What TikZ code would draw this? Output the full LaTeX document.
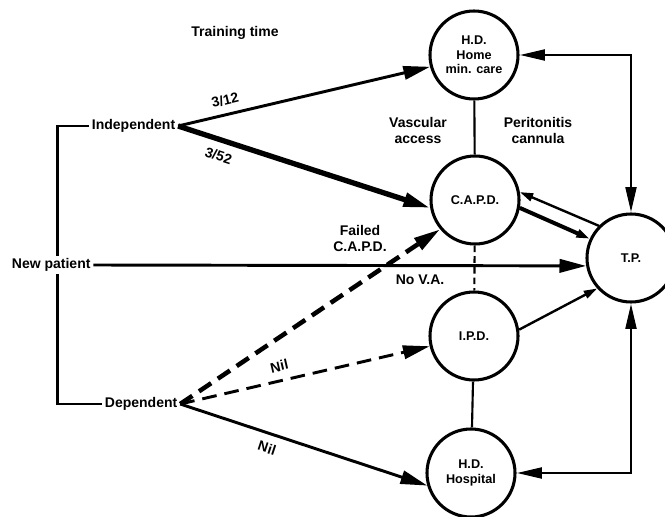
\documentclass[tikz,border=0pt]{standalone}
\usepackage{fontspec}
\setmainfont{Liberation Sans}
\usepackage{tikz}
\usetikzlibrary{
  arrows.meta,
  positioning,
}
\tikzstyle{station} = [
  circle,
  draw,
  line width=2.3pt,
  minimum size=66pt,
  inner sep=0pt,
  align=center,
  font=\bfseries\fontsize{9.5}{11}\selectfont,
]
\tikzstyle{txt} = [
  inner sep=2pt,
  align=center,
  font=\bfseries\fontsize{10.5}{12}\selectfont,
]
\tikzstyle{edgetxt} = [
  txt,
  sloped,
  inner sep=6pt,
]
\tikzstyle{arrow} = [
  -{Triangle[length=20pt,width=10pt]},
  line width=2.2pt,
]
\tikzstyle{thickarrow} = [
  arrow,
  line width=4pt,
]
\tikzstyle{smallarrow} = [
  -{Triangle[length=10pt,width=6pt]},
  line width=1.8pt,
]
\tikzstyle{dasharrow} = [
  arrow,
  dash pattern=on 11pt off 6pt,
]
\tikzstyle{tplink} = [
  {Triangle[length=19pt,width=8pt]}-{Triangle[length=19pt,width=8pt]},
  line width=2.2pt,
]
\tikzstyle{bracket} = [line width=2pt]
\tikzstyle{link} = [line width=1.6pt]

\begin{document}
\begin{tikzpicture}[x=0.75pt,y=-0.75pt]
  \useasboundingbox (0,0) rectangle (665,517);

  % treatments
  \node[station] (hdhome) at (474,55)  {H.D.\\Home\\min. care};
  \node[station] (capd)   at (475,200) {C.A.P.D.};
  \node[station] (ipd)    at (474,336) {I.P.D.};
  \node[station] (hdhosp) at (471,473) {H.D.\\Hospital};
  \node[station] (tp)     at (631,258) {T.P.};

  % patients
  \node[txt,anchor=west] (newpat) at (9,265)   {New patient};
  \node[txt,anchor=west] (indep)  at (89,126)  {Independent};
  \node[txt,anchor=west] (dep)    at (102,404) {Dependent};

  \node[txt] (training) at (235,33)  {Training time};
  \node[txt] (vascular) at (418,130) {Vascular\\access};
  \node[txt] (perito)   at (538,130) {Peritonitis\\cannula};
  \node[txt] (failed)   at (360,238) {Failed\\C.A.P.D.};
  \node[txt] (nova)     at (420,280) {No V.A.};

  \draw[bracket] (indep.west) -| ([xshift=4.5pt]newpat.north);
  \draw[bracket] ([xshift=4.5pt]newpat.south) |- (dep.west);

  \draw[arrow] (indep.east) -- node[edgetxt,above,pos=0.2] (t312) {3/12} (hdhome.195);
  \draw[thickarrow] (indep.east) -- node[edgetxt,below,pos=0.18] (t352) {3/52} (capd.190);
  \draw[arrow] (newpat.east) -- (tp.190);
  \draw[dasharrow,line width=3.4pt] (dep.east) -- (capd.220);
  \draw[dasharrow] (dep.east) -- node[edgetxt,above,pos=0.41] (nil1) {Nil} (ipd.193);
  \draw[arrow] (dep.east) -- node[edgetxt,below,pos=0.37] (nil2) {Nil} (hdhosp.196);

  \draw[link] (hdhome) -- (capd);
  \draw[link,dash pattern=on 5pt off 3pt] (capd) -- (ipd);
  \draw[link] (ipd) -- (hdhosp);

  \draw[smallarrow] (tp.135) -- (capd.10);
  \draw[smallarrow,line width=3pt] (capd.350) -- (tp.155);
  \draw[smallarrow] (ipd.8) -- (tp.222);

  \draw[tplink] (hdhome.east) -| (tp.north);
  \draw[tplink] (hdhosp.east) -| (tp.south);
\end{tikzpicture}
\end{document}
